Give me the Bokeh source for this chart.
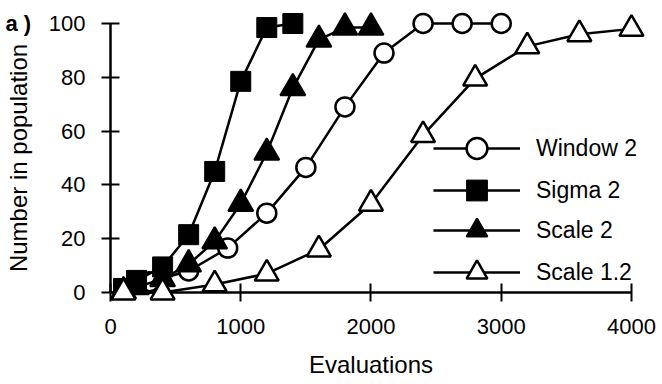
from bokeh.plotting import figure
from bokeh.models import Range1d, FixedTicker, Legend, LegendItem
from bokeh.core.properties import value
from bokeh.embed import file_html
from bokeh.resources import INLINE

# ---- data ----
x_ticks = [0, 1000, 2000, 3000, 4000]
y_ticks = [0, 20, 40, 60, 80, 100]

window_x = [300, 600, 900, 1200, 1500, 1800, 2100, 2400, 2700, 3000]
window_y = [4, 8, 16.5, 29.5, 46.5, 69, 89, 100, 100, 100]

sigma_x = [100, 200, 400, 600, 800, 1000, 1200, 1400]
sigma_y = [1.5, 4.5, 9.5, 21.5, 45, 78.5, 98.5, 100]

scale2_x = [100, 200, 400, 600, 800, 1000, 1200, 1400, 1600, 1800, 2000]
scale2_y = [0.5, 2, 5, 10.5, 19, 33, 52, 76, 94, 98.5, 98.5]

scale12_x = [100, 400, 800, 1200, 1600, 2000, 2400, 2800, 3200, 3600, 4000]
scale12_y = [0, 0, 3, 7, 16, 33, 58.5, 79.5, 91.5, 96, 98]

labels = ["Window 2", "Sigma 2", "Scale 2", "Scale 1.2"]
panel_tag = "a )"
x_title = "Evaluations"
y_title = "Number in population"

FONT = "Liberation Sans"

# frame spans past 4000 so the legend text is not cut; axis line stops at 4000
p = figure(width=662, height=384, output_backend="svg", toolbar_location=None,
           x_range=Range1d(0, 4223), y_range=Range1d(0, 100),
           min_border_left=110, min_border_right=2, min_border_top=23,
           min_border_bottom=92)
p.outline_line_color = None
p.background_fill_color = "white"
p.border_fill_color = "white"
p.xgrid.visible = False
p.ygrid.visible = False

for ax in (p.xaxis[0], p.yaxis[0]):
    ax.axis_line_width = 2.5
    ax.axis_line_color = "black"
    ax.major_tick_line_width = 2
    ax.major_tick_line_color = "black"
    ax.major_tick_in = 9
    ax.major_tick_out = 9
    ax.minor_tick_line_color = None
    ax.major_label_text_font = FONT
    ax.major_label_text_font_size = "22px"
    ax.major_label_text_color = "black"
    ax.axis_label_text_font = FONT
    ax.axis_label_text_font_size = "24px"
    ax.axis_label_text_font_style = "normal"
    ax.axis_label_text_color = "black"

p.xaxis.ticker = FixedTicker(ticks=x_ticks)
p.yaxis.ticker = FixedTicker(ticks=y_ticks)
p.xaxis.bounds = (x_ticks[0], x_ticks[-1])
p.yaxis.axis_label = y_title
p.xaxis.major_label_standoff = 17
p.yaxis.major_label_standoff = 16
p.yaxis.axis_label_standoff = 14

LW = 2.5
series = []

r1 = p.line(window_x, window_y, line_color="black", line_width=LW, level="overlay")
s1 = p.scatter(window_x, window_y, marker="circle", size=19, fill_color="white",
               line_color="black", line_width=2.5, level="overlay")
series.append([r1, s1])

r2 = p.line(sigma_x, sigma_y, line_color="black", line_width=LW, level="overlay")
s2 = p.scatter(sigma_x, sigma_y, marker="square", size=20, fill_color="black",
               line_color="black", line_width=1, level="overlay")
series.append([r2, s2])

r3 = p.line(scale2_x, scale2_y, line_color="black", line_width=LW, level="overlay")
s3 = p.scatter(scale2_x, scale2_y, marker="triangle", size=25, fill_color="black",
               line_color="black", line_width=2, level="overlay")
series.append([r3, s3])

r4 = p.line(scale12_x, scale12_y, line_color="black", line_width=LW, level="overlay")
s4 = p.scatter(scale12_x, scale12_y, marker="triangle", size=24, fill_color="white",
               line_color="black", line_width=2.5, level="overlay")
series.append([r4, s4])

# one legend box per entry so the row pitch can follow the reference
legend_bottoms = [118, 76, 36, -6]
for lab, rends, yb in zip(labels, series, legend_bottoms):
    lg = Legend(items=[LegendItem(label=lab, renderers=rends)], location=(323, yb),
                glyph_width=87, glyph_height=52, padding=0, margin=0,
                label_standoff=16, label_text_font=FONT, label_text_font_size="23px",
                label_text_color="black", border_line_color=None,
                background_fill_alpha=0)
    p.add_layout(lg, "center")

# x-axis title centred under the 0..4000 axis line
p.text(x=[(x_ticks[0] + x_ticks[-1]) / 2], y=[y_ticks[0]], text=[x_title],
       y_offset=72, text_font=value(FONT), text_font_size="24px",
       text_color="black", text_align="center", text_baseline="alphabetic",
       level="overlay")

p.text(x=[x_ticks[0]], y=[y_ticks[-1]], text=[panel_tag], x_offset=-105, y_offset=0,
       text_font=value(FONT), text_font_size="22px", text_font_style="bold",
       text_color="black", text_align="left", text_baseline="alphabetic",
       level="overlay")

open("out.html", "w").write(file_html(p, INLINE))
